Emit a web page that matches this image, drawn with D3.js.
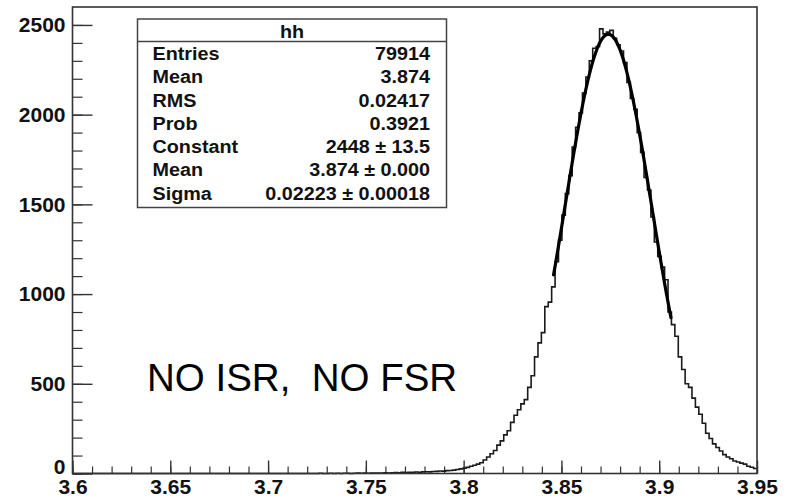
<!DOCTYPE html>
<html>
<head>
<meta charset="utf-8">
<script src="https://cdn.jsdelivr.net/npm/d3@7"></script>
<style>
  html, body { margin: 0; padding: 0; background: #fff; }
  svg { display: block; }
  .tick text { font-family: "Liberation Sans", Arial, sans-serif; font-weight: bold; fill: #111; }
</style>
</head>
<body>
<svg id="chart" width="793" height="501"></svg>
<script>
// Histogram "hh": 200 bins between 3.6 and 3.95
const xLow = 3.6;
const xHigh = 3.95;
const counts = [
  0, 0, 0, 0, 0, 0, 0, 0, 0, 0,
  0, 0, 0, 0, 0, 0, 0, 0, 0, 0,
  0, 0, 0, 0, 0, 0, 0, 0, 0, 0,
  0, 0, 0, 0, 0, 0, 0, 0, 0, 0,
  0, 0, 0, 0, 0, 0, 0, 0, 0, 0,
  0, 0, 0, 0, 0, 0, 0, 0, 0, 0,
  0, 0, 0, 0, 0, 0, 0, 0, 0, 0,
  0, 0, 1, 0, 0, 1, 0, 1, 0, 1,
  1, 0, 1, 2, 1, 2, 1, 3, 2, 2,
  3, 4, 3, 4, 5, 4, 6, 5, 7, 6,
  8, 7, 9, 10, 9, 11, 12, 14, 13, 16,
  17, 19, 22, 26, 29, 34, 40, 46, 52, 60,
  75, 92, 110, 128, 158, 182, 215, 238, 285, 325,
  355, 388, 412, 480, 545, 650, 728, 785, 930, 955,
  1040, 1180, 1300, 1440, 1560, 1660, 1820, 1930, 2010, 2120,
  2210, 2300, 2370, 2380, 2478, 2450, 2460, 2470, 2425, 2390,
  2355, 2290, 2180, 2090, 2030, 1900, 1790, 1650, 1580, 1430,
  1290, 1210, 1150, 1080, 900, 830, 765, 650, 580, 500,
  480, 420, 370, 330, 280, 224, 195, 165, 145, 125,
  105, 92, 82, 70, 64, 58, 52, 40, 35, 28
];

// Gaussian fit parameters (from the stats box) and fit range
const fitConstant = 2448;
const fitMean = 3.874;
const fitSigma = 0.02223;
const fitRange = [3.846, 3.906];

// Axis ticks
const xTickValues = [3.6, 3.65, 3.7, 3.75, 3.8, 3.85, 3.9, 3.95];
const xTickLabels = ["3.6", "3.65", "3.7", "3.75", "3.8", "3.85", "3.9", "3.95"];
const yTickValues = [0, 500, 1000, 1500, 2000, 2500];
const yTickLabels = ["0", "500", "1000", "1500", "2000", "2500"];
const yMax = 2600;

// Stats box rows
const statTitle = "hh";
const statLabels = ["Entries", "Mean", "RMS", "Prob", "Constant", "Mean", "Sigma"];
const statValues = ["79914", "3.874", "0.02417", "0.3921", "2448 \u00b1 13.5", "3.874 \u00b1 0.000", "0.02223 \u00b1 0.00018"];

const annotation = "NO ISR,  NO FSR";

const frame = { left: 72.5, right: 757, top: 7, bottom: 473.5 };
const svg = d3.select("#chart");

const x = d3.scaleLinear().domain([xLow, xHigh]).range([frame.left, frame.right]);
const y = d3.scaleLinear().domain([0, yMax]).range([frame.bottom, frame.top]);

// Minor ticks (no labels)
const xMinor = d3.range(0, 36).map(i => xLow + i * 0.01);
const yMinor = d3.range(0, 26).map(i => i * 100);

svg.append("g")
  .attr("transform", `translate(0,${frame.bottom})`)
  .call(d3.axisBottom(x).tickValues(xMinor).tickSize(-7).tickFormat(""))
  .call(g => g.select(".domain").remove())
  .call(g => g.selectAll("line").attr("stroke", "#333").attr("stroke-width", 1.2));

svg.append("g")
  .attr("transform", `translate(${frame.left},0)`)
  .call(d3.axisLeft(y).tickValues(yMinor).tickSize(-10).tickFormat(""))
  .call(g => g.select(".domain").remove())
  .call(g => g.selectAll("line").attr("stroke", "#333").attr("stroke-width", 1.2));

// Major ticks with labels
svg.append("g")
  .attr("transform", `translate(0,${frame.bottom})`)
  .call(d3.axisBottom(x).tickValues(xTickValues).tickSize(-13).tickPadding(6)
    .tickFormat((d, i) => xTickLabels[i]))
  .call(g => g.select(".domain").remove())
  .call(g => g.selectAll("line").attr("stroke", "#333").attr("stroke-width", 1.4))
  .call(g => g.selectAll("text").attr("font-size", 21));

svg.append("g")
  .attr("transform", `translate(${frame.left},0)`)
  .call(d3.axisLeft(y).tickValues(yTickValues).tickSize(-20).tickPadding(7)
    .tickFormat((d, i) => yTickLabels[i]))
  .call(g => g.select(".domain").remove())
  .call(g => g.selectAll("line").attr("stroke", "#333").attr("stroke-width", 1.4))
  .call(g => g.selectAll("text").attr("font-size", 21))
  .call(g => g.selectAll(".tick").filter(d => d === 0).select("text").attr("y", -7));

// Histogram outline
const binWidth = (xHigh - xLow) / counts.length;
const steps = counts.map((c, i) => [xLow + i * binWidth, c]);
steps.push([xHigh, counts[counts.length - 1]]);
svg.append("path")
  .datum(steps)
  .attr("fill", "none")
  .attr("stroke", "#1a1a1a")
  .attr("stroke-width", 1.6)
  .attr("d", d3.line().x(d => x(d[0])).y(d => y(d[1])).curve(d3.curveStepAfter));

// Gaussian fit curve
const gauss = v => fitConstant * Math.exp(-0.5 * Math.pow((v - fitMean) / fitSigma, 2));
const fitPts = d3.range(0, 121).map(i => {
  const v = fitRange[0] + (fitRange[1] - fitRange[0]) * i / 120;
  return [v, gauss(v)];
});
svg.append("path")
  .datum(fitPts)
  .attr("fill", "none")
  .attr("stroke", "#000")
  .attr("stroke-width", 3.2)
  .attr("stroke-linecap", "round")
  .attr("d", d3.line().x(d => x(d[0])).y(d => y(d[1])));

// Frame
svg.append("rect")
  .attr("x", frame.left).attr("y", frame.top)
  .attr("width", frame.right - frame.left).attr("height", frame.bottom - frame.top)
  .attr("fill", "none").attr("stroke", "#333").attr("stroke-width", 1.6);

// Stats box (text slightly widened, as in ROOT's stat pave)
const box = { x: 137.5, y: 19, w: 309, h: 188.5, header: 22.5 };
const sx = 1.13;
const sb = svg.append("g").attr("font-family", "\"Liberation Sans\", Arial, sans-serif")
  .attr("font-weight", "bold").attr("fill", "#111");
sb.append("rect").attr("x", box.x).attr("y", box.y).attr("width", box.w).attr("height", box.h)
  .attr("fill", "#fff").attr("stroke", "#444").attr("stroke-width", 1.5);
sb.append("line").attr("x1", box.x).attr("x2", box.x + box.w)
  .attr("y1", box.y + box.header).attr("y2", box.y + box.header)
  .attr("stroke", "#444").attr("stroke-width", 1.5);
sb.append("text")
  .attr("transform", `translate(${box.x + box.w / 2},${box.y + 18.5}) scale(${sx},1)`)
  .attr("text-anchor", "middle").attr("font-size", 17.5).text(statTitle);
const rowY = d3.scaleLinear().domain([0, statLabels.length - 1]).range([60, 199.5]);
sb.selectAll("text.lbl").data(statLabels).join("text").attr("class", "lbl")
  .attr("transform", (d, i) => `translate(${box.x + 15},${rowY(i)}) scale(${sx},1)`)
  .attr("font-size", 17.5).text(d => d);
sb.selectAll("text.val").data(statValues).join("text").attr("class", "val")
  .attr("transform", (d, i) => `translate(${box.x + box.w - 16.5},${rowY(i)}) scale(${sx},1)`)
  .attr("font-size", 17.5).attr("text-anchor", "end").text(d => d);

// Annotation
svg.append("text")
  .attr("x", 147).attr("y", 391)
  .attr("font-family", "\"Liberation Sans\", Arial, sans-serif")
  .attr("font-size", 38.5).attr("fill", "#000")
  .style("white-space", "pre")
  .text(annotation);
</script>
</body>
</html>
